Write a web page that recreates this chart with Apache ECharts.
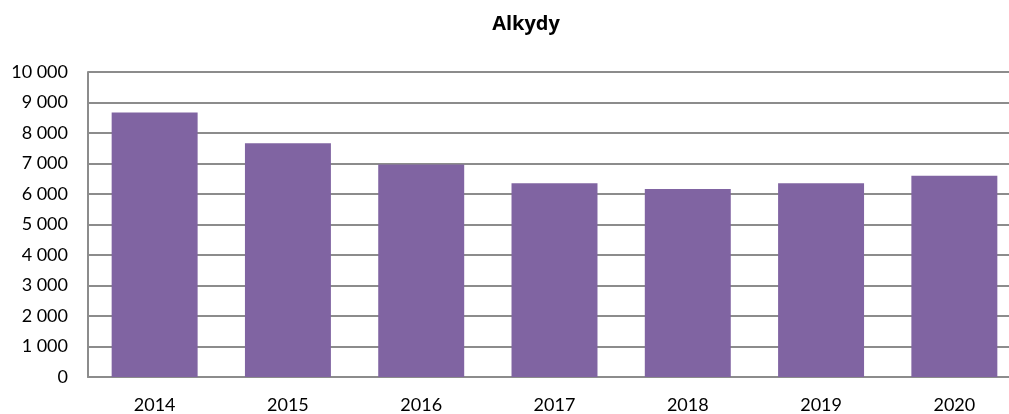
<!DOCTYPE html>
<html>
<head>
<meta charset="utf-8">
<script src="https://cdn.jsdelivr.net/npm/echarts@6/dist/echarts.min.js"></script>
<style>
html,body{margin:0;padding:0;background:#fff;overflow:hidden;width:1009px;height:414px;}
#c{width:1021px;height:414px;}
</style>
</head>
<body>
<div id="c"></div>
<script>
var title = 'Alkydy';
var categories = ['2014','2015','2016','2017','2018','2019','2020'];
var values = [8670, 7660, 6970, 6350, 6160, 6350, 6600];

var chart = echarts.init(document.getElementById('c'), null, {renderer:'canvas'});
function fmt(v){
  var s = String(v);
  if (s.length > 3) s = s.slice(0, s.length-3) + ' ' + s.slice(s.length-3);
  return s;
}
chart.setOption({
  animation:false,
  backgroundColor:'#fff',
  title:{
    text:title, left:521, top:9, textAlign:'center',
    textStyle:{fontFamily:'Open Sans', fontWeight:'bold', fontSize:20, color:'#000'}
  },
  grid:{left:88, right:0, top:72, bottom:36, containLabel:false},
  xAxis:{
    type:'category', data:categories,
    axisLine:{show:true, lineStyle:{color:'#8c8c8c', width:2}},
    axisTick:{show:false},
    axisLabel:{fontFamily:'Lato', fontSize:18, color:'#000', margin:19}
  },
  yAxis:{
    type:'value', min:0, max:10000, interval:1000,
    axisLine:{show:true, lineStyle:{color:'#8c8c8c', width:2}},
    axisTick:{show:false},
    splitLine:{lineStyle:{color:'#8c8c8c', width:2}},
    axisLabel:{fontFamily:'Lato', fontSize:18, color:'#000', margin:20, formatter:fmt}
  },
  series:[{
    type:'bar', data:values, barCategoryGap:'35.5%',
    itemStyle:{color:'#8064A2'}
  }]
});
</script>
</body>
</html>
